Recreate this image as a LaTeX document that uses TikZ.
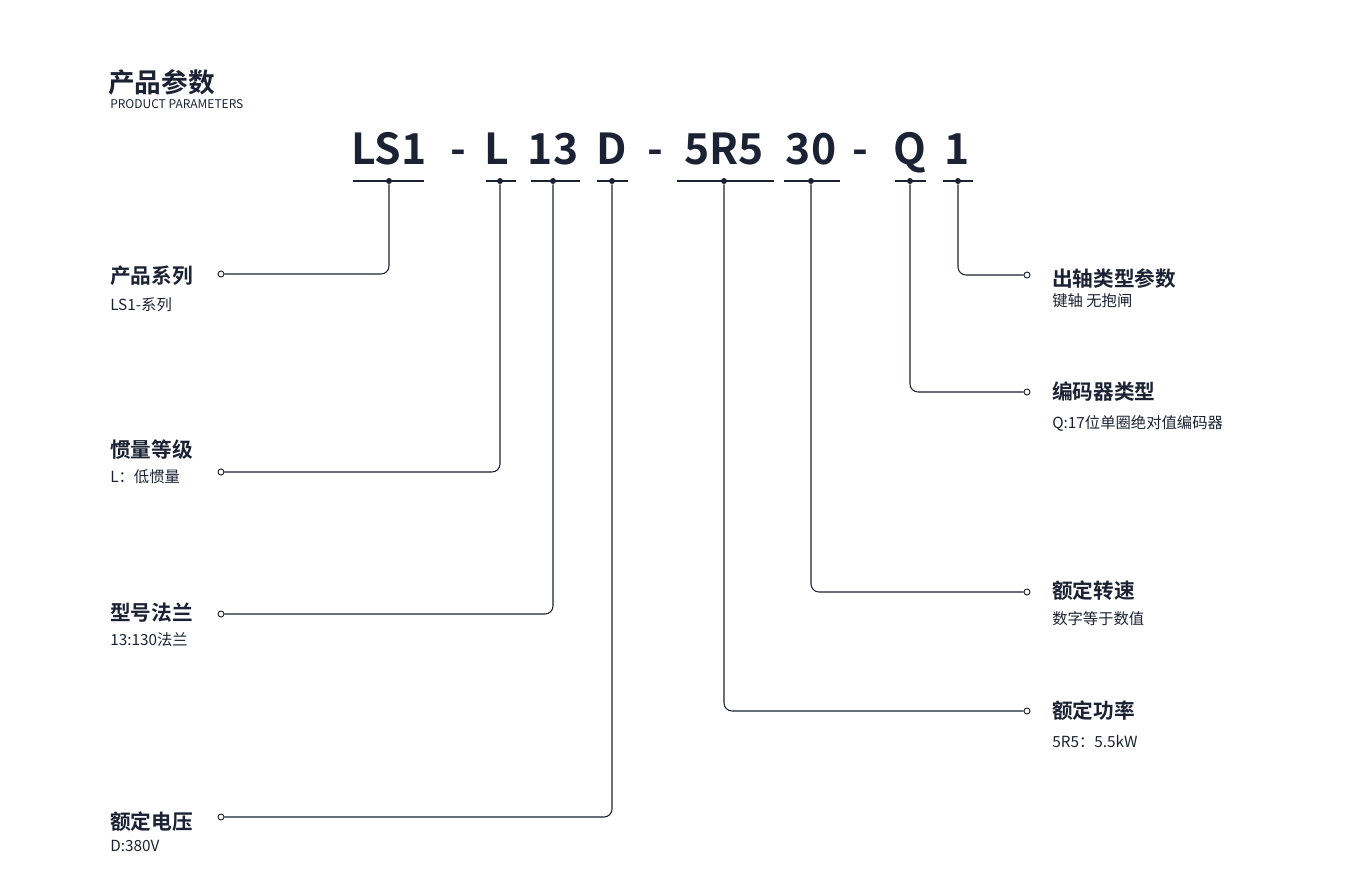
\documentclass[tikz,border=0pt]{standalone}
\usepackage{fontspec}
\setmainfont{Noto Sans CJK SC}[BoldFont={Noto Sans CJK SC Bold}]
\begin{document}
\begin{tikzpicture}[x=0.75pt,y=-0.75pt,
  ink/.style={draw=dk,line width=0.8pt},
  lead/.style={ink,rounded corners=6pt},
  dot/.style={circle,fill=dk,inner sep=0pt,minimum size=4.5pt},
  ring/.style={circle,draw=dk,fill=white,line width=0.7pt,inner sep=0pt,minimum size=4.5pt},
  code/.style={font=\fontsize{32}{32}\selectfont\bfseries,text=dk,anchor=base},
  head/.style={font=\fontsize{15.5}{16}\selectfont\bfseries,text=dk,anchor=west,inner sep=0pt},
  sub/.style={font=\fontsize{11.5}{12}\selectfont,text=dk,anchor=west,inner sep=0pt}]
\definecolor{dk}{HTML}{1B2233}
\useasboundingbox (0,0) rectangle (1366,884);
\node[anchor=west,inner sep=0pt,font=\fontsize{20}{20}\selectfont\bfseries,text=dk] (t) at (108,82) {产品参数};
\node[anchor=west,inner sep=0pt,font=\fontsize{9}{9}\selectfont,text=dk] (t2) at (110,104) {PRODUCT PARAMETERS};
% code parts
\foreach \n/\x/\s in {c1/389/LS1,m1/458/-,c2/497/L,c3/553/13,c4/612/D,m2/655/-,c5/724/5R5,c6/811/30,m3/860/-,c7/910/Q,c8/957/1}
  \node[code] (\n) at (\x,165) {\s};
% underlines
\foreach \a/\b in {353/424,486/516,531/580,597/628,677/774,784/840,895/926,943/973}
  \draw[ink] (\a,181) -- (\b,181);
% dots
\foreach \n/\x in {d1/389,d2/500,d3/553,d4/612,d5/724,d6/811,d7/910,d8/958}
  \node[dot] (\n) at (\x,181) {};
% left rings
\foreach \n/\y in {r1/274,r2/472,r3/614,r4/817}
  \node[ring] (\n) at (221,\y) {};
\foreach \n/\y in {r5/711,r6/592,r7/392,r8/275}
  \node[ring] (\n) at (1027,\y) {};
\draw[lead] (d1) |- (r1);
\draw[lead] (d2) |- (r2);
\draw[lead] (d3) |- (r3);
\draw[lead] (d4) |- (r4);
\draw[lead] (d5) |- (r5);
\draw[lead] (d6) |- (r6);
\draw[lead] (d7) |- (r7);
\draw[lead] (d8) |- (r8);
% labels
\node[head] (h1) at (110,276) {产品系列};
\node[sub] (s1) at (110,305) {LS1-系列};
\node[head] (h2) at (110,450) {惯量等级};
\node[sub] (s2) at (110,477) {L：低惯量};
\node[head] (h3) at (110,613) {型号法兰};
\node[sub] (s3) at (110,640) {13:130法兰};
\node[head] (h4) at (110,822) {额定电压};
\node[sub] (s4) at (110,846) {D:380V};
\node[head] (h8) at (1052,279) {出轴类型参数};
\node[sub] (s8) at (1052,301) {键轴 无抱闸};
\node[head] (h7) at (1052,392) {编码器类型};
\node[sub] (s7) at (1052,423) {Q:17位单圈绝对值编码器};
\node[head] (h6) at (1052,591) {额定转速};
\node[sub] (s6) at (1052,619) {数字等于数值};
\node[head] (h5) at (1052,711) {额定功率};
\node[sub] (s5) at (1052,741) {5R5：5.5kW};
\end{tikzpicture}
\end{document}
